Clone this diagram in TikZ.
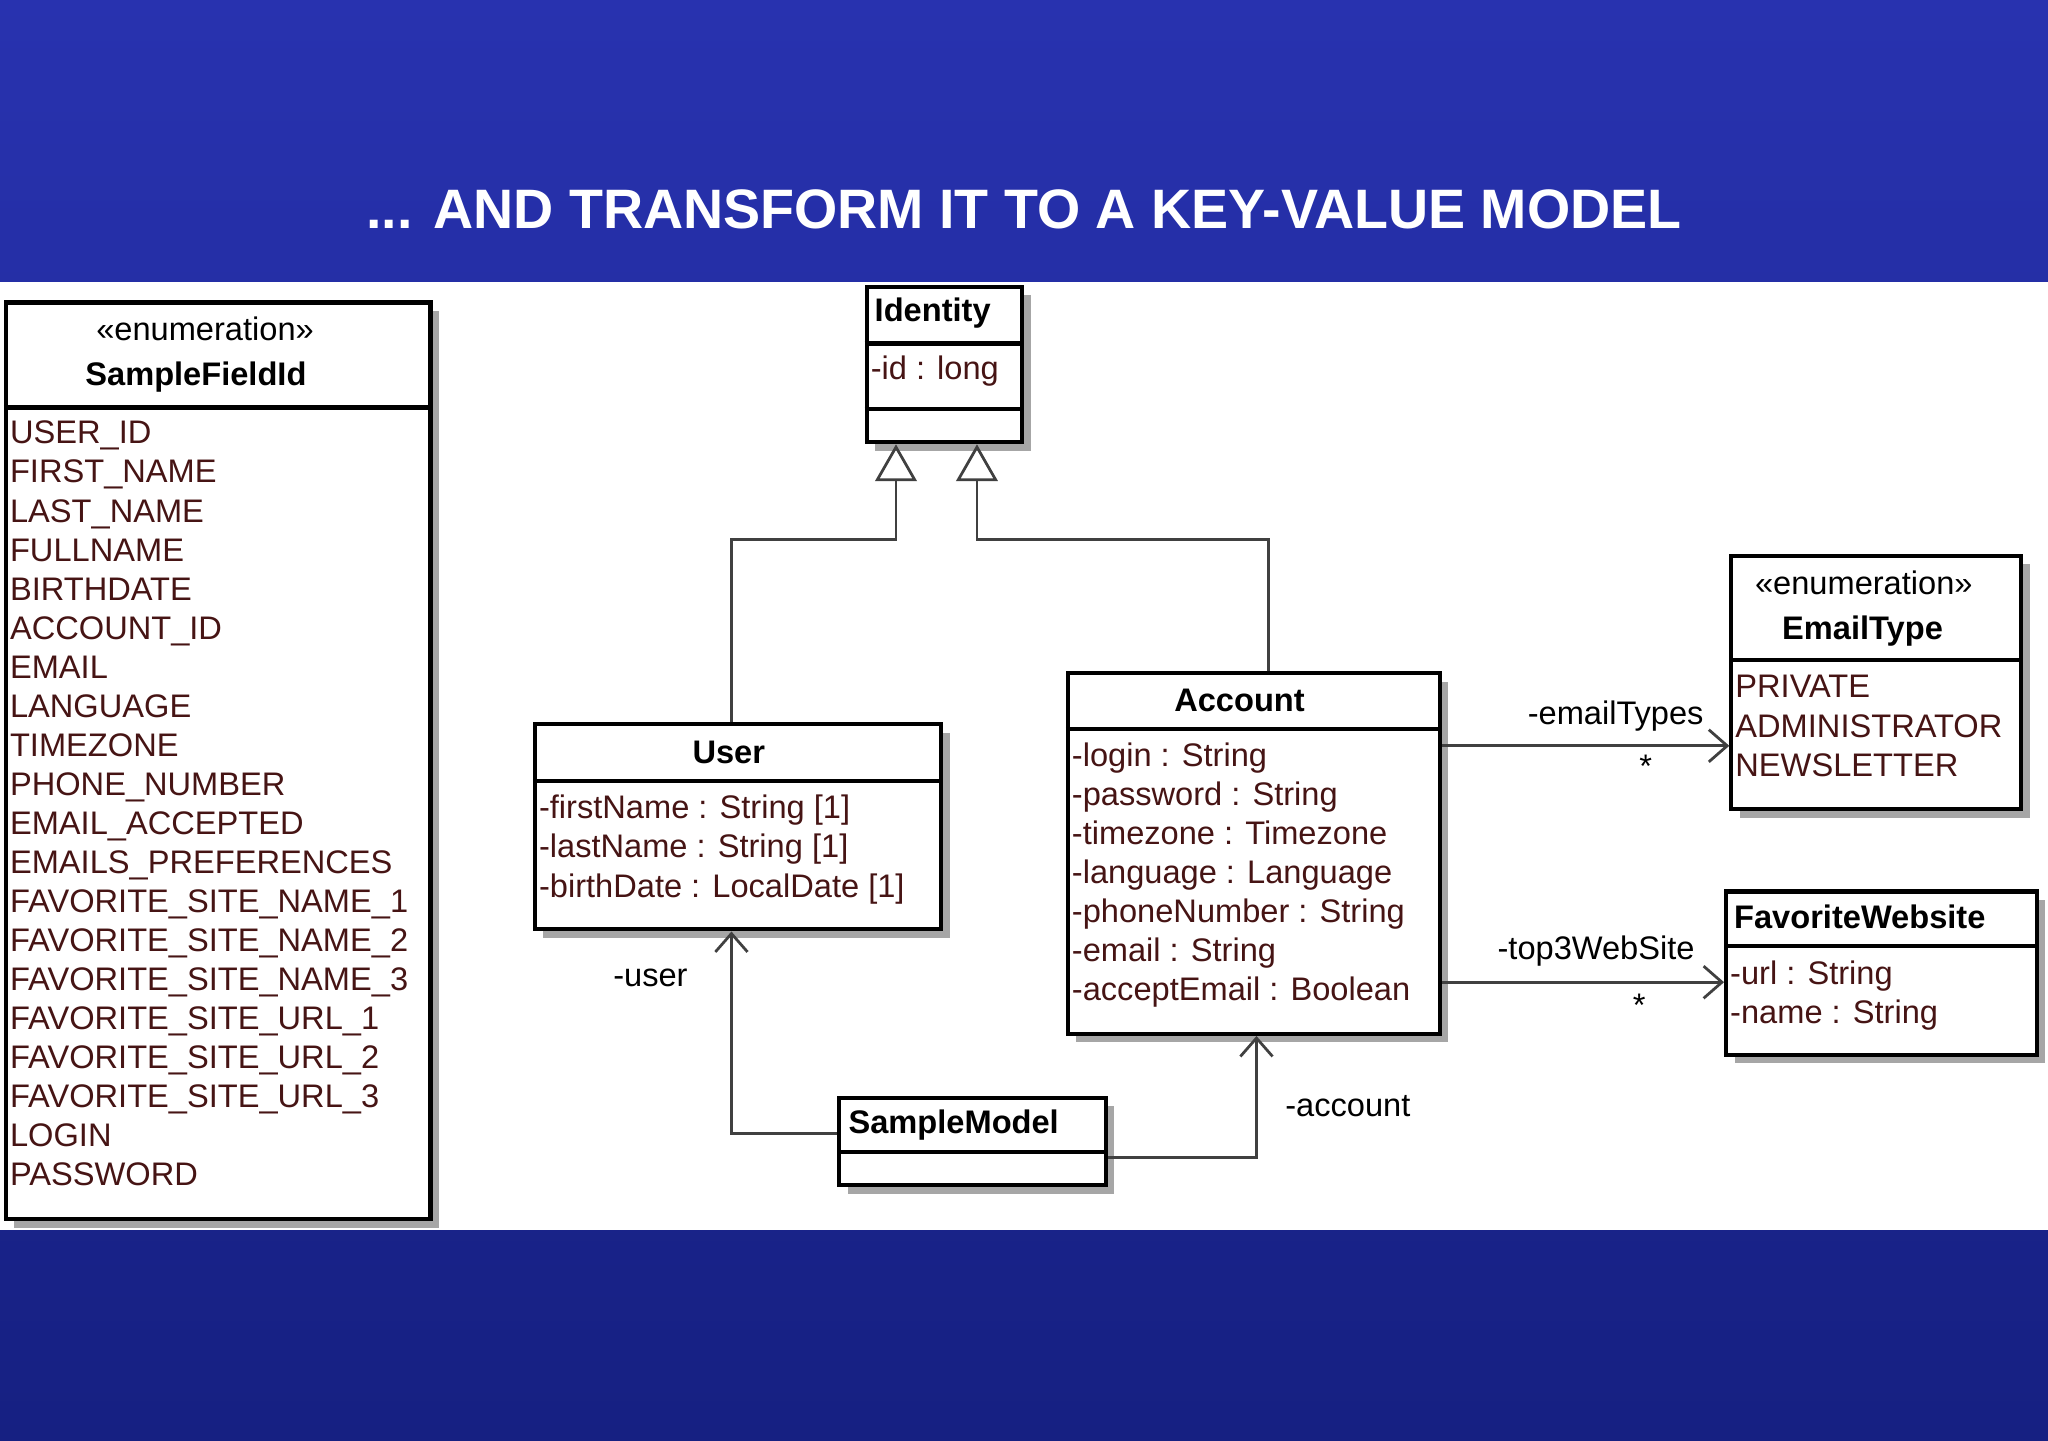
\documentclass[tikz,border=0pt]{standalone}
\usepackage{fontspec}
\setmainfont{Liberation Sans}
\usetikzlibrary{arrows.meta}
\definecolor{attr}{RGB}{70,20,20}
\newcommand\ubox[5]{%
 \fill[black!35] (#2+8,#3+8) rectangle (#4+8,#5+8);
 \node[draw,line width=0.9pt,fill=white,anchor=north west,inner sep=0pt,minimum width=(#4-#2)*0.01cm,minimum height=(#5-#3)*0.01cm] (#1) at (#2,#3) {};}
\tikzset{attrt/.style={anchor=west,text=attr,font=\fontsize{7.1}{8}\selectfont,inner sep=0pt,text height=5.4pt,text depth=1.5pt},
 cname/.style={font=\bfseries\fontsize{7.1}{8}\selectfont,inner sep=0pt},
 stereo/.style={font=\fontsize{7.1}{8}\selectfont,inner sep=0pt},
 lab/.style={font=\fontsize{7.1}{8}\selectfont,inner sep=0pt},
 gen/.style={-{Triangle[open,length=8pt,width=9pt]},line width=0.6pt,draw=black!75},
 assoc/.style={-{Straight Barb[length=4pt,width=7pt]},line width=0.6pt,draw=black!75}}
\begin{document}
\begin{tikzpicture}[x=0.01cm,y=-0.01cm]
\shade[top color={rgb,255:red,40;green,50;blue,175},bottom color={rgb,255:red,22;green,32;blue,130}] (0,0) rectangle (1568,1103);
\useasboundingbox (0,0) rectangle (1568,1103);
\node[text=white,font=\bfseries\fontsize{12.1}{14}\selectfont] (title) at (784,160) {... AND TRANSFORM IT TO A KEY-VALUE MODEL};
\fill[white] (0,216) rectangle (1568,942);
% SampleFieldId
\ubox{sf}{3}{230}{328}{932}
\draw[line width=0.9pt] (3,312) -- (328,312);
\node[stereo] at (157,252) {«enumeration»};
\node[cname] at (150,289) {SampleFieldId};
\foreach \t [count=\i from 0] in {USER\_ID,FIRST\_NAME,LAST\_NAME,FULLNAME,BIRTHDATE,ACCOUNT\_ID,EMAIL,LANGUAGE,TIMEZONE,PHONE\_NUMBER,EMAIL\_ACCEPTED,EMAILS\_PREFERENCES,FAVORITE\_SITE\_NAME\_1,FAVORITE\_SITE\_NAME\_2,FAVORITE\_SITE\_NAME\_3,FAVORITE\_SITE\_URL\_1,FAVORITE\_SITE\_URL\_2,FAVORITE\_SITE\_URL\_3,LOGIN,PASSWORD}
 \node[attrt] at (7,333+\i*29.9) {\t};
% Identity
\ubox{id}{662}{218}{781}{337}
\draw[line width=0.9pt] (662,263) -- (781,263) (662,313) -- (781,313);
\node[cname,anchor=west] at (669,240) {Identity};
\node[attrt] at (666,284) {-id : long};
% User
\ubox{user}{408}{553}{719}{710}
\draw[line width=0.9pt] (408,598) -- (719,598);
\node[cname] at (558,576) {User};
\foreach \t [count=\i from 0] in {-firstName : String [1],-lastName : String [1],-birthDate : LocalDate [1]}
 \node[attrt] at (412,620+\i*30) {\t};
% Account
\ubox{acc}{816}{514}{1101}{790}
\draw[line width=0.9pt] (816,558) -- (1101,558);
\node[cname] at (949,536) {Account};
\foreach \t [count=\i from 0] in {-login : String,-password : String,-timezone : Timezone,-language : Language,-phoneNumber : String,-email : String,-acceptEmail : Boolean}
 \node[attrt] at (820,580+\i*29.8) {\t};
% EmailType
\ubox{et}{1324}{424}{1546}{618}
\draw[line width=0.9pt] (1324,505) -- (1546,505);
\node[stereo] at (1427,446) {«enumeration»};
\node[cname] at (1426,483) {EmailType};
\foreach \t [count=\i from 0] in {PRIVATE,ADMINISTRATOR,NEWSLETTER}
 \node[attrt] at (1328,527+\i*30.5) {\t};
% FavoriteWebsite
\ubox{fw}{1320}{681}{1558}{806}
\draw[line width=0.9pt] (1320,724) -- (1558,724);
\node[cname,anchor=west] at (1327,702) {FavoriteWebsite};
\node[attrt] at (1324,747) {-url : String};
\node[attrt] at (1324,777) {-name : String};
% SampleModel
\ubox{sm}{641}{839}{845}{906}
\draw[line width=0.9pt] (641,882) -- (845,882);
\node[cname,anchor=west] at (649,861) {SampleModel};
% connectors
\draw[gen] (user.north -| 560,0) -- (560,413) -- (686,413) -- (id.south -| 686,0);
\draw[gen] (acc.north -| 971,0) -- (971,413) -- (748,413) -- (id.south -| 748,0);
\draw[assoc] (sm.west |- 0,868) -- (560,868) -- (user.south -| 560,0);
\draw[assoc] (sm.east |- 0,886) -- (962,886) -- (acc.south -| 962,0);
\draw[assoc] (acc.east |- 0,571) -- (et.west |- 0,571);
\draw[assoc] (acc.east |- 0,752) -- (fw.west |- 0,752);
\node[lab] at (498,749) {-user};
\node[lab] at (1032,847) {-account};
\node[lab] at (1237,548) {-emailTypes};
\node[lab] at (1260,587) {*};
\node[lab] at (1222,728) {-top3WebSite};
\node[lab] at (1255,770) {*};
\end{tikzpicture}
\end{document}
